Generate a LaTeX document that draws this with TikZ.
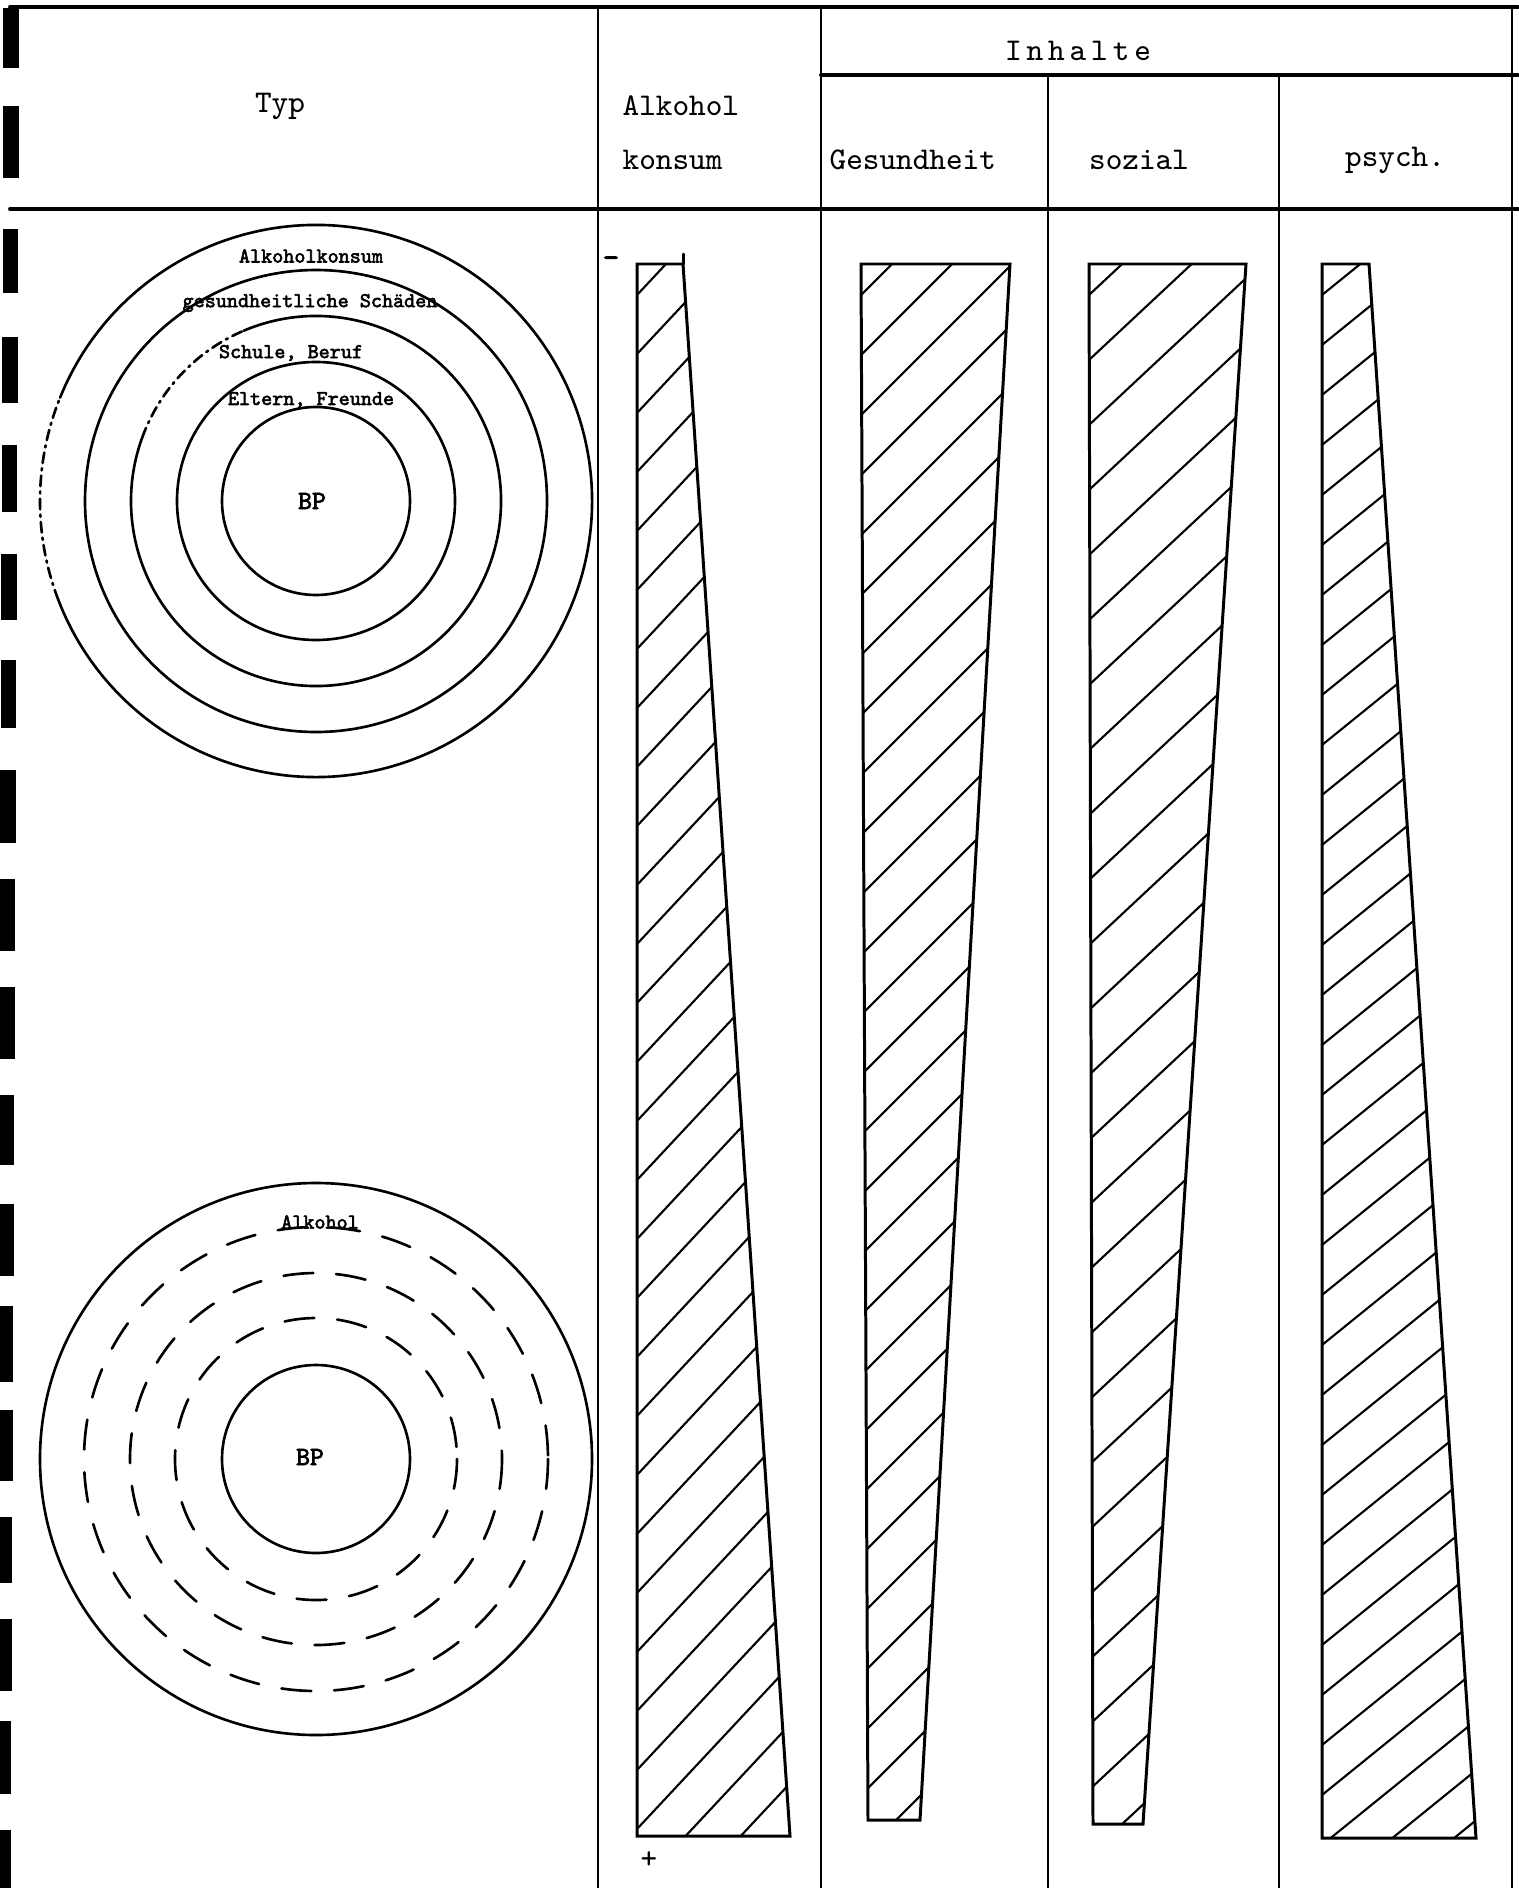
\documentclass[tikz,border=0pt]{standalone}
\usepackage{fontspec}
\usepackage{tikz}
\newfontfamily\ringfont{lmmono10-regular}[Extension=.otf,FakeBold=2.6]
\tikzset{
  rule/.style={line width=1.1pt},
  colline/.style={line width=0.75pt},
  ring/.style={line width=0.75pt},
  faded/.style={dash pattern=on 3pt off 1.5pt on 0.6pt off 1.5pt},
  dring/.style={ring,dash pattern=on 8.5pt off 6.5pt},
  wedge/.style={line width=0.85pt,line join=miter},
  hatch/.style={line width=0.6pt},
  hole/.style={fill=black},
  hdr/.style={font=\ttfamily\fontsize{9}{11}\selectfont,inner sep=0pt},
  ringlbl/.style={font=\ringfont\fontsize{6}{7}\selectfont,inner sep=0pt},
  bplbl/.style={font=\ringfont\fontsize{7.5}{9}\selectfont,inner sep=0pt},
}

\begin{document}
\begin{tikzpicture}[x=0.01cm,y=-0.01cm,line cap=round]
  \useasboundingbox (0,0) rectangle (1518,1888);
  \foreach \ya/\yb/\xa/\xb in {8/68/3/19, 106/178/3/19, 229/293/3/18,
      337/403/2/18, 445/512/2/17, 554/620/1/17, 660/728/1/16, 770/843/0/16,
      879/951/0/15, 987/1059/0/15, 1095/1165/0/14, 1204/1276/0/14,
      1306/1382/0/13, 1410/1481/0/13, 1517/1583/0/12, 1619/1691/0/12,
      1721/1794/0/11, 1830/1888/0/11}
    \fill[hole] (\xa,\ya) rectangle (\xb,\yb);

  \draw[rule] (10,7) -- (1518,7);
  \draw[rule] (821,75) -- (1518,75);
  \draw[rule] (10,209) -- (1518,209);
  \foreach \x/\t in {598/7, 821/7, 1048/75, 1279/75, 1512/7}
    \draw[colline] (\x,\t) -- (\x,1888);

  \node[hdr] (typ) at (280,106) {Typ};
  \node[hdr,anchor=west] (alk) at (622,106) {Alkohol};
  \node[hdr,anchor=west] (kons) at (622,160) {konsum};
  \node[hdr] (inh) at (1078,51) {I\kern1.4pt n\kern1.4pt h\kern1.4pt a\kern1.4pt l\kern1.4pt t\kern1.4pt e};
  \node[hdr,anchor=west] (ges) at (829,160) {Gesundheit};
  \node[hdr] (soz) at (1139,160) {sozial};
  \node[hdr] (psy) at (1395,160) {psych.};

  \coordinate (ctop) at (316,501);
  \coordinate (cbot) at (316,1459);
  \foreach \r in {94,139,231}
    \draw[ring] (ctop) circle[radius=\r];
  \draw[ring] (ctop) ++(247:185) arc[start angle=247,end angle=560,radius=185];
  \draw[ring,faded] (ctop) ++(200:185) arc[start angle=200,end angle=247,radius=185];
  \draw[ring] (ctop) ++(202:276) arc[start angle=202,end angle=519,radius=276];
  \draw[ring,faded] (ctop) ++(159:276) arc[start angle=159,end angle=202,radius=276];
  \node[ringlbl] (lk) at (311,256) {Alkoholkonsum};
  \node[ringlbl] (lg) at (310,303) {gesundheitliche Schäden};
  \node[ringlbl] (ls) at (291,353) {Schule, Beruf};
  \node[ringlbl] (le) at (311,400) {Eltern, Freunde};
  \node[bplbl] (bp1) at (312,501) {BP};

  \draw[ring] (cbot) circle[radius=276];
  \draw[ring] (cbot) circle[radius=94];
  \foreach \r in {141,186,232}
    \draw[dring] (cbot) circle[radius=\r];
  \node[ringlbl] (la) at (320,1222) {Alkohol};
  \node[bplbl] (bp2) at (310,1457) {BP};

  \foreach \tl/\tr/\br/\bl/\by/\sp/\dy in {637/683/790/637/1836/59/214,
      861/1010/920/868/1820/60/200, 1089/1246/1143/1093/1824/65/187,
      1322/1369/1476/1322/1838/50/162} {
    \begin{scope}
      \clip (\tl,264) -- (\tr,264) -- (\br,\by) -- (\bl,\by) -- cycle;
      \foreach \k in {0,...,36}
        \draw[hatch] (\tl,295+\k*\sp) -- ++(250,-1.25*\dy);
    \end{scope}
    \draw[wedge] (\tl,264) -- (\tr,264) -- (\br,\by) -- (\bl,\by) -- cycle;
  }
  \draw[wedge] (683,254) -- (683,264);
  \node[hdr,font=\ringfont\fontsize{9}{11}\selectfont] (minus) at (611,262) {-};
  \node[hdr] (plus) at (649,1860) {+};
\end{tikzpicture}
\end{document}
